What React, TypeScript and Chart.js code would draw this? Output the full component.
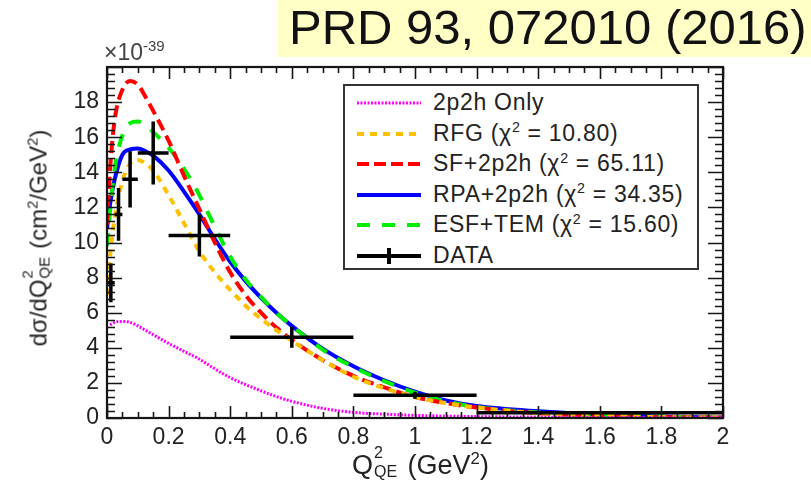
import React, { useEffect, useRef } from "react";
import { Chart, registerables } from "chart.js";
Chart.register(...registerables);

// ---- data (units of 1e-39 cm^2/GeV^2) ----
const qCurve = [0, 0.01, 0.025, 0.05, 0.075, 0.1, 0.125, 0.15, 0.2, 0.25, 0.3, 0.35, 0.4, 0.45, 0.5, 0.55, 0.6, 0.7, 0.8, 0.9, 1.0, 1.1, 1.2, 1.4, 1.6, 1.8, 2.0];
const only2p2h = [null, 5.3, 5.45, 5.5, 5.45, 5.25, 5.0, 4.75, 4.25, 3.8, 3.35, 2.8, 2.3, 1.9, 1.55, 1.22, 0.95, 0.55, 0.32, 0.22, 0.15, 0.11, 0.08, 0.05, 0.03, 0.02, 0.01];
const rfg = [7.0, 9.2, 11.4, 13.5, 14.5, 14.7, 14.5, 14.1, 12.7, 11.1, 9.5, 8.3, 7.3, 6.4, 5.65, 5.0, 4.4, 3.3, 2.35, 1.7, 1.2, 0.85, 0.6, 0.28, 0.12, 0.05, 0.02];
const sf2p2h = [11.0, 14.2, 17.0, 18.7, 19.2, 19.0, 18.3, 17.5, 15.8, 13.8, 11.9, 10.0, 8.3, 7.0, 6.0, 5.15, 4.45, 3.3, 2.4, 1.75, 1.2, 0.85, 0.6, 0.27, 0.12, 0.05, 0.02];
const rpa2p2h = [10.8, 12.2, 13.6, 15.0, 15.3, 15.35, 15.2, 14.95, 14.1, 12.9, 11.6, 10.2, 8.9, 7.8, 6.85, 6.0, 5.25, 3.95, 2.95, 2.15, 1.5, 1.0, 0.68, 0.38, 0.2, 0.08, 0.03];
const esfTem = [9.8, 11.8, 14.2, 16.1, 16.8, 16.9, 16.7, 16.3, 15.4, 14.2, 12.7, 10.9, 9.2, 7.9, 6.9, 6.0, 5.25, 3.9, 2.9, 2.1, 1.45, 0.95, 0.62, 0.32, 0.16, 0.07, 0.03];

const dataQ = [0.0125, 0.0375, 0.075, 0.15, 0.3, 0.6, 1.0, 1.6];
const dataQHalfWidth = [0.0125, 0.0125, 0.025, 0.05, 0.1, 0.2, 0.2, 0.4];
const dataXsec = [7.7, 11.6, 13.6, 15.1, 10.4, 4.6, 1.3, 0.3];
const dataErr = [1.1, 1.5, 1.6, 1.8, 1.2, 0.6, 0.2, 0.05];

const xTickStep = 0.2;
const yTickStep = 2;

const seriesNames = ["2p2h Only", "RFG", "SF+2p2h", "RPA+2p2h", "ESF+TEM", "DATA"];
const chi2 = [null, "10.80", "65.11", "34.35", "15.60", null];

const FONT = "'Liberation Sans', Arial, sans-serif";

const curve = (ys: (number | null)[]) => qCurve.map((q, i) => ({ x: q, y: ys[i] }));

function errorBarPoints() {
  const pts: { x: number; y: number | null }[] = [];
  dataQ.forEach((q, i) => {
    const y = dataXsec[i];
    pts.push({ x: q - dataQHalfWidth[i], y }, { x: q + dataQHalfWidth[i], y }, { x: q, y: null });
    pts.push({ x: q, y: y - dataErr[i] }, { x: q, y: y + dataErr[i] }, { x: q, y: null });
  });
  return pts;
}

const frameTicks = {
  id: "frameTicks",
  afterDatasetsDraw(chart: any) {
    const { ctx, chartArea: a, scales } = chart;
    const x = scales.x, y = scales.y;
    ctx.save();
    ctx.strokeStyle = "#151515";
    ctx.lineWidth = 1.6;
    for (let i = 0; i <= 40; i++) {
      const px = Math.round(x.getPixelForValue(i * 0.05)) + 0.5;
      const len = i % 4 === 0 ? 12 : 6;
      ctx.beginPath();
      ctx.moveTo(px, a.bottom); ctx.lineTo(px, a.bottom - len);
      ctx.moveTo(px, a.top); ctx.lineTo(px, a.top + len);
      ctx.stroke();
    }
    for (let i = 0; i <= 50; i++) {
      const py = Math.round(y.getPixelForValue(i * 0.4)) + 0.5;
      if (py < a.top) continue;
      const len = i % 5 === 0 ? 15 : 8;
      ctx.beginPath();
      ctx.moveTo(a.left, py); ctx.lineTo(a.left + len, py);
      ctx.moveTo(a.right, py); ctx.lineTo(a.right - len, py);
      ctx.stroke();
    }
    ctx.lineWidth = 2.2;
    ctx.strokeRect(a.left, a.top, a.right - a.left, a.bottom - a.top);
    ctx.restore();
  },
};

function LegendSample({ kind }: { kind: number }) {
  const w = 64;
  const common = { x1: 0, x2: w, y1: 8, y2: 8, strokeWidth: 4 } as any;
  let el: any;
  if (kind === 0) el = <line {...common} stroke="#ff00ff" strokeWidth={3} strokeDasharray="2 1.5" />;
  else if (kind === 1) el = <line {...common} stroke="#ffc000" strokeDasharray="7 6" />;
  else if (kind === 2) el = <line {...common} stroke="#ff0000" strokeDasharray="12 5" />;
  else if (kind === 3) el = <line {...common} stroke="#0000ff" />;
  else if (kind === 4) el = <line {...common} stroke="#00ee00" strokeDasharray="13 12" />;
  else
    el = (
      <g>
        <line {...common} stroke="#000" />
        <line x1={w / 2} x2={w / 2} y1={0} y2={16} stroke="#000" strokeWidth={4} />
      </g>
    );
  return (
    <svg width={w} height={16} style={{ position: "absolute", left: 12, top: -8, overflow: "visible" }}>
      {el}
    </svg>
  );
}

export default function App() {
  const ref = useRef<HTMLCanvasElement>(null);
  useEffect(() => {
    const chart = new Chart(ref.current!, {
      type: "scatter",
      data: {
        datasets: [
          { label: seriesNames[5], data: errorBarPoints(), showLine: true, spanGaps: false, borderColor: "#000", borderWidth: 3.5, pointRadius: 0, order: 0 },
          { label: seriesNames[0], data: curve(only2p2h), showLine: true, borderColor: "#ff00ff", borderWidth: 3, borderDash: [2, 1.5], pointRadius: 0, cubicInterpolationMode: "monotone", order: 1 },
          { label: seriesNames[1], data: curve(rfg), showLine: true, borderColor: "#ffc000", borderWidth: 4, borderDash: [7, 6], pointRadius: 0, cubicInterpolationMode: "monotone", order: 2 },
          { label: seriesNames[2], data: curve(sf2p2h), showLine: true, borderColor: "#ff0000", borderWidth: 4, borderDash: [12, 6], pointRadius: 0, cubicInterpolationMode: "monotone", order: 3 },
          { label: seriesNames[3], data: curve(rpa2p2h), showLine: true, borderColor: "#0000ff", borderWidth: 4, pointRadius: 0, cubicInterpolationMode: "monotone", order: 5 },
          { label: seriesNames[4], data: curve(esfTem), showLine: true, borderColor: "#00ee00", borderWidth: 4, borderDash: [13, 12], pointRadius: 0, cubicInterpolationMode: "monotone", order: 4 },
        ] as any,
      },
      options: {
        animation: false,
        responsive: false,
        devicePixelRatio: 1,
        layout: { padding: { left: 0, right: 88, top: 67, bottom: 0 } },
        plugins: { legend: { display: false }, tooltip: { enabled: false } },
        scales: {
          x: {
            type: "linear",
            min: 0,
            max: 2,
            grid: { display: false, drawTicks: false },
            border: { display: false },
            ticks: {
              stepSize: xTickStep,
              padding: 6,
              color: "#222",
              font: { family: FONT, size: 23 },
              maxRotation: 0,
              autoSkip: false,
              callback: (v: any) => String(Number(Number(v).toFixed(1))),
            },
            afterFit: (s: any) => { s.height = 73; },
          },
          y: {
            type: "linear",
            min: 0,
            max: 20,
            grid: { display: false, drawTicks: false },
            border: { display: false },
            ticks: {
              stepSize: yTickStep,
              padding: 8,
              color: "#222",
              font: { family: FONT, size: 23 },
              callback: (v: any) => (Number(v) >= 20 ? "" : String(Math.round(Number(v)))),
            },
            afterFit: (s: any) => { s.width = 107; },
          },
        },
      } as any,
      plugins: [frameTicks],
    });
    return () => chart.destroy();
  }, []);

  const text: React.CSSProperties = { fontFamily: FONT, color: "#222", position: "absolute", whiteSpace: "nowrap" };
  const sup: React.CSSProperties = { fontSize: "0.62em", position: "relative", top: "-0.6em" };

  return (
    <div style={{ position: "absolute", left: 0, top: 0, width: 811, height: 491, background: "#fff", overflow: "hidden" }}>
      <canvas ref={ref} width={811} height={491} style={{ position: "absolute", left: 0, top: 0 }} />
      <div style={{ position: "absolute", left: 278, top: 0, width: 533, height: 57, background: "#ffffc6" }} />
      <div style={{ ...text, left: 289, top: 0, fontSize: 49, color: "#111", lineHeight: "54px" }}>PRD 93, 072010 (2016)</div>
      <div style={{ ...text, left: 104, top: 40, fontSize: 23, color: "#444", lineHeight: "24px" }}>
        ×10<span style={{ fontSize: 15, position: "relative", top: -9 }}>-39</span>
      </div>
      <div style={{ ...text, left: 352, top: 450, fontSize: 27, lineHeight: "30px" }}>
        Q<span style={{ position: "relative", display: "inline-block", width: 27 }}>
          <span style={{ position: "absolute", left: 1, top: -12, fontSize: 16 }}>2</span>
          <span style={{ position: "absolute", left: 1, top: 7, fontSize: 16 }}>QE</span>
          &nbsp;
        </span>{" "}
        (GeV<span style={sup}>2</span>)
      </div>
      <div
        style={{
          ...text,
          left: 40,
          top: 238,
          fontSize: 24,
          lineHeight: "28px",
          transform: "translate(-50%, -50%) rotate(-90deg)",
        }}
      >
        dσ/dQ<span style={{ position: "relative", display: "inline-block", width: 24 }}>
          <span style={{ position: "absolute", left: 1, top: -11, fontSize: 15 }}>2</span>
          <span style={{ position: "absolute", left: 1, top: 6, fontSize: 15 }}>QE</span>
          &nbsp;
        </span>{" "}
        (cm<span style={sup}>2</span>/GeV<span style={sup}>2</span>)
      </div>
      <div style={{ position: "absolute", left: 343, top: 84, width: 356, height: 186, boxSizing: "border-box", border: "2px solid #333", background: "#fff" }}>
        {seriesNames.map((name, i) => (
          <div key={name} style={{ position: "absolute", left: 0, top: 17 + i * 30.6, width: "100%" }}>
            <LegendSample kind={i} />
            <div style={{ ...text, left: 88, top: -14, fontSize: 23, letterSpacing: "0.7px", lineHeight: "26px" }}>
              {name}
              {chi2[i] !== null && (
                <>
                  {" ("}χ<span style={sup}>2</span>{" = " + chi2[i] + ")"}
                </>
              )}
            </div>
          </div>
        ))}
      </div>
    </div>
  );
}
